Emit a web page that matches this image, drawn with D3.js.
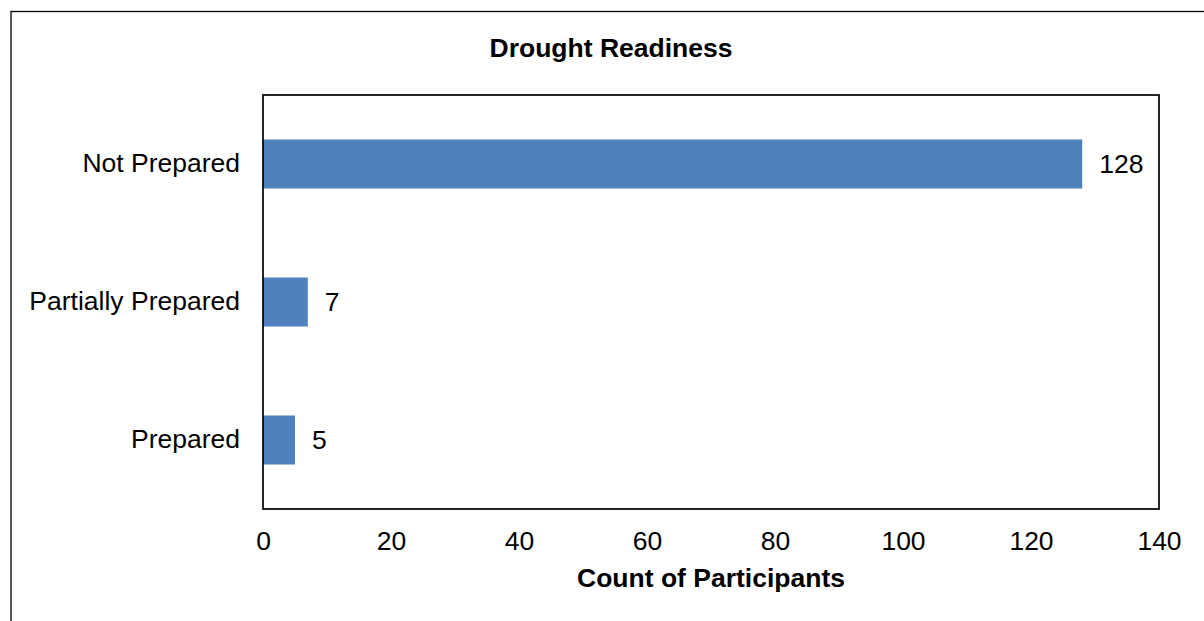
<!DOCTYPE html>
<html>
<head>
<meta charset="utf-8">
<script src="https://cdn.jsdelivr.net/npm/d3@7"></script>
<style>
  html, body { margin: 0; padding: 0; background: #fff; }
  svg { display: block; font-family: "Liberation Sans", Arial, sans-serif; }
</style>
</head>
<body>
<svg id="chart" width="1204" height="621"></svg>
<script>
// Survey responses: how ready participants feel for drought
const categories = ["Not Prepared", "Partially Prepared", "Prepared"];
const counts = [128, 7, 5];
const xTicks = [0, 20, 40, 60, 80, 100, 120, 140];
const chartTitle = "Drought Readiness";
const xTitle = "Count of Participants";

const svg = d3.select("#chart");
const FS = 26.5;

// Outer chart frame (extends past the right and bottom edges)
svg.append("rect")
  .attr("x", 11).attr("y", 11.5)
  .attr("width", 1210).attr("height", 640)
  .attr("fill", "#fff")
  .attr("stroke", "#000").attr("stroke-width", 1.3);

const plot = { left: 263, right: 1159, top: 95, bottom: 509 };

const x = d3.scaleLinear()
  .domain([0, 140])
  .range([plot.left, plot.right]);

const y = d3.scaleBand()
  .domain(categories)
  .range([plot.top, plot.bottom])
  .paddingInner(0.645)
  .paddingOuter(0.3225);

// Bars
svg.append("g")
  .selectAll("rect")
  .data(categories)
  .join("rect")
  .attr("x", x(0))
  .attr("y", d => y(d))
  .attr("width", (d, i) => x(counts[i]) - x(0))
  .attr("height", y.bandwidth())
  .attr("fill", "#4F81BD");

// Value labels
svg.append("g")
  .selectAll("text")
  .data(categories)
  .join("text")
  .attr("x", (d, i) => x(counts[i]) + 17)
  .attr("y", d => y(d) + y.bandwidth() / 2)
  .attr("dy", "0.35em")
  .attr("font-size", FS)
  .attr("fill", "#000")
  .text((d, i) => counts[i]);

// Plot frame
svg.append("rect")
  .attr("x", plot.left).attr("y", plot.top)
  .attr("width", plot.right - plot.left)
  .attr("height", plot.bottom - plot.top)
  .attr("fill", "none")
  .attr("stroke", "#000").attr("stroke-width", 1.7);

// X axis tick labels
const xAxis = d3.axisBottom(x)
  .tickValues(xTicks)
  .tickSize(0)
  .tickPadding(22);
const gx = svg.append("g")
  .attr("transform", `translate(0,${plot.bottom})`)
  .call(xAxis);
gx.select(".domain").remove();
gx.selectAll("text")
  .attr("font-size", FS)
  .attr("font-family", "Liberation Sans, Arial, sans-serif")
  .attr("fill", "#000");

// Y axis category labels
const yAxis = d3.axisLeft(y).tickSize(0).tickPadding(23);
const gy = svg.append("g")
  .attr("transform", `translate(${plot.left},0)`)
  .call(yAxis);
gy.select(".domain").remove();
gy.selectAll("text")
  .attr("font-size", FS)
  .attr("font-family", "Liberation Sans, Arial, sans-serif")
  .attr("fill", "#000");

// Titles
svg.append("text")
  .attr("x", 611).attr("y", 57)
  .attr("text-anchor", "middle")
  .attr("font-size", FS).attr("font-weight", "bold")
  .text(chartTitle);

svg.append("text")
  .attr("x", (plot.left + plot.right) / 2).attr("y", 587)
  .attr("text-anchor", "middle")
  .attr("font-size", FS).attr("font-weight", "bold")
  .text(xTitle);
</script>
</body>
</html>
